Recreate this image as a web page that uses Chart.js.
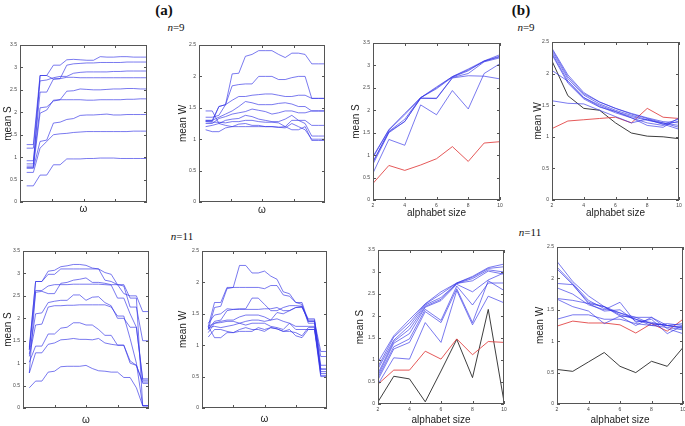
<!DOCTYPE html>
<html>
<head>
<meta charset="utf-8">
<script src="https://cdn.jsdelivr.net/npm/chart.js@4.4.0/dist/chart.umd.min.js"></script>
<style>
  body { margin: 0; background: #fff; }
  #page { position: relative; width: 685px; height: 426px; overflow: hidden; background: #fff; }
  .lbl { position: absolute; transform: translate(-50%, -50%); font-family: "Liberation Serif", serif; color: #111; white-space: nowrap; }
  .head { font-size: 15px; font-weight: bold; }
  .n { font-size: 11px; }
  .panel { position: absolute; }
</style>
</head>
<body>
<div id="page">
  <div class="lbl head" style="left:164px;top:10px">(a)</div>
  <div class="lbl head" style="left:521px;top:10px">(b)</div>
  <div class="lbl n" style="left:176px;top:27px"><i>n</i>=9</div>
  <div class="lbl n" style="left:526px;top:27px"><i>n</i>=9</div>
  <div class="lbl n" style="left:182px;top:236px"><i>n</i>=11</div>
  <div class="lbl n" style="left:530px;top:232px"><i>n</i>=11</div>
</div>
<script>
// x values
const omega9 = [1, 2, 3, 4, 5, 6, 7, 8, 9, 10, 11, 12, 13, 14, 15, 16, 17, 18, 19];
const omega11 = [1, 2, 3, 4, 5, 6, 7, 8, 9, 10, 11, 12, 13, 14, 15, 16, 17, 18, 19, 20];
const alphabet = [2, 3, 4, 5, 6, 7, 8, 9, 10];

// (a) n=9, mean S over omega
const s9Omega = [
  [0.36, 0.36, 0.60, 0.60, 0.83, 0.83, 0.96, 0.96, 0.96, 0.97, 0.97, 0.98, 0.98, 0.98, 0.97, 0.97, 0.97, 0.97, 0.97],
  [0.66, 0.66, 1.20, 1.35, 1.50, 1.52, 1.53, 1.55, 1.56, 1.57, 1.57, 1.57, 1.57, 1.57, 1.57, 1.57, 1.58, 1.58, 1.58],
  [0.75, 0.75, 1.35, 1.38, 1.76, 1.78, 1.84, 1.86, 1.93, 1.94, 1.94, 1.95, 1.96, 1.94, 1.94, 1.95, 1.95, 1.95, 1.95],
  [0.77, 0.77, 1.98, 2.05, 2.27, 2.28, 2.28, 2.28, 2.28, 2.27, 2.27, 2.28, 2.28, 2.28, 2.28, 2.29, 2.29, 2.30, 2.30],
  [0.85, 0.85, 2.10, 2.12, 2.25, 2.28, 2.47, 2.48, 2.52, 2.51, 2.50, 2.50, 2.51, 2.52, 2.52, 2.53, 2.53, 2.52, 2.52],
  [0.92, 0.92, 2.45, 2.45, 2.74, 2.75, 2.78, 2.78, 2.77, 2.77, 2.77, 2.77, 2.77, 2.77, 2.77, 2.77, 2.77, 2.77, 2.77],
  [1.20, 1.20, 2.70, 2.72, 2.77, 2.80, 2.80, 2.87, 2.89, 2.90, 2.90, 2.90, 2.90, 2.91, 2.91, 2.92, 2.92, 2.92, 2.92],
  [1.28, 1.28, 2.82, 2.82, 2.74, 2.75, 3.05, 3.08, 3.09, 3.10, 3.10, 3.11, 3.11, 3.11, 3.11, 3.12, 3.12, 3.12, 3.12],
  [0.80, 0.80, 2.82, 2.82, 3.05, 3.05, 3.17, 3.18, 3.17, 3.16, 3.16, 3.24, 3.23, 3.23, 3.24, 3.24, 3.23, 3.23, 3.23]
];

// (a) n=9, mean W over omega
const w9Omega = [
  [1.30, 1.30, 1.52, 1.55, 2.04, 2.05, 2.32, 2.35, 2.41, 2.41, 2.41, 2.35, 2.30, 2.37, 2.37, 2.35, 2.20, 2.20, 2.20],
  [1.28, 1.28, 1.52, 1.55, 1.85, 1.87, 1.88, 1.88, 2.00, 2.00, 2.00, 1.95, 1.95, 1.98, 2.00, 2.00, 1.65, 1.65, 1.65],
  [1.35, 1.35, 1.38, 1.55, 1.62, 1.68, 1.68, 1.70, 1.71, 1.72, 1.72, 1.70, 1.68, 1.68, 1.70, 1.70, 1.65, 1.65, 1.65],
  [1.30, 1.30, 1.35, 1.40, 1.45, 1.52, 1.60, 1.58, 1.55, 1.55, 1.55, 1.57, 1.58, 1.56, 1.52, 1.52, 1.45, 1.45, 1.45],
  [1.25, 1.25, 1.33, 1.36, 1.40, 1.42, 1.44, 1.48, 1.46, 1.44, 1.40, 1.42, 1.45, 1.45, 1.42, 1.42, 1.45, 1.45, 1.45],
  [1.20, 1.22, 1.25, 1.30, 1.32, 1.33, 1.38, 1.36, 1.32, 1.30, 1.28, 1.28, 1.32, 1.38, 1.30, 1.30, 1.22, 1.22, 1.22],
  [1.28, 1.27, 1.27, 1.26, 1.28, 1.28, 1.30, 1.30, 1.28, 1.27, 1.27, 1.26, 1.20, 1.30, 1.30, 1.25, 1.05, 1.05, 1.05],
  [1.15, 1.12, 1.12, 1.18, 1.20, 1.24, 1.25, 1.22, 1.22, 1.20, 1.20, 1.19, 1.18, 1.25, 1.20, 1.15, 1.00, 1.00, 1.00],
  [1.45, 1.45, 1.25, 1.22, 1.20, 1.20, 1.20, 1.20, 1.20, 1.20, 1.20, 1.19, 1.20, 1.15, 1.15, 1.20, 0.98, 0.98, 0.98]
];

// (b) n=9, mean S over alphabet size
const s9AlphaBlue = [
  [0.97, 1.57, 1.93, 2.28, 2.52, 2.75, 2.92, 3.10, 3.24],
  [0.95, 1.56, 1.90, 2.28, 2.50, 2.75, 2.90, 3.09, 3.21],
  [0.85, 1.53, 1.80, 2.28, 2.48, 2.74, 2.88, 3.10, 3.19],
  [0.85, 1.52, 1.75, 2.27, 2.27, 2.73, 2.82, 3.08, 3.17],
  [0.80, 1.50, 1.75, 2.27, 2.26, 2.72, 2.77, 2.76, 2.70],
  [0.60, 1.35, 1.22, 2.12, 1.90, 2.44, 2.03, 2.82, 3.04]
];
const s9AlphaRed = [0.37, 0.77, 0.66, 0.78, 0.92, 1.19, 0.86, 1.27, 1.30];

// (b) n=9, mean W over alphabet size
const w9AlphaBlue = [
  [1.57, 1.53, 1.52, 1.42, 1.32, 1.22, 1.28, 1.20, 1.28],
  [2.05, 1.88, 1.62, 1.48, 1.38, 1.30, 1.18, 1.15, 1.30],
  [2.40, 1.98, 1.70, 1.55, 1.45, 1.37, 1.30, 1.24, 1.22],
  [2.38, 1.95, 1.68, 1.55, 1.45, 1.36, 1.29, 1.22, 1.15],
  [2.35, 1.92, 1.66, 1.52, 1.42, 1.34, 1.27, 1.20, 1.12],
  [2.32, 1.88, 1.62, 1.50, 1.40, 1.32, 1.26, 1.22, 1.18],
  [2.30, 1.85, 1.60, 1.47, 1.40, 1.30, 1.22, 1.18, 1.25]
];
const w9AlphaRed = [1.13, 1.25, 1.27, 1.29, 1.31, 1.22, 1.45, 1.31, 1.29];
const w9AlphaBlack = [2.20, 1.65, 1.45, 1.42, 1.22, 1.06, 1.01, 1.00, 0.97];

// (a) n=11, mean S over omega
const s11Omega = [
  [1.30, 2.82, 2.82, 3.05, 3.07, 3.15, 3.17, 3.20, 3.20, 3.18, 3.12, 3.10, 3.02, 2.98, 2.75, 2.55, 2.50, 2.50, 2.15, 2.15],
  [1.35, 2.82, 2.82, 2.98, 2.98, 3.10, 3.10, 3.10, 3.10, 3.10, 3.10, 3.10, 2.85, 2.82, 2.75, 2.75, 2.45, 2.45, 0.05, 0.05],
  [1.30, 2.58, 2.60, 2.55, 2.55, 2.78, 2.80, 2.85, 2.87, 2.90, 2.80, 2.80, 2.78, 2.75, 2.75, 2.72, 2.25, 2.25, 1.50, 1.50],
  [0.78, 2.62, 2.62, 2.72, 2.75, 2.75, 2.75, 2.76, 2.76, 2.76, 2.76, 2.76, 2.75, 2.74, 2.45, 2.45, 2.10, 1.80, 0.65, 0.65],
  [1.20, 2.10, 2.12, 2.35, 2.38, 2.40, 2.40, 2.52, 2.52, 2.40, 2.47, 2.48, 2.35, 2.28, 2.00, 2.00, 1.80, 1.80, 0.62, 0.62],
  [1.15, 1.85, 1.87, 2.25, 2.28, 2.28, 2.29, 2.29, 2.30, 2.30, 2.30, 2.30, 2.30, 2.25, 2.05, 2.05, 1.55, 1.00, 0.05, 0.05],
  [1.02, 1.38, 1.38, 1.65, 1.65, 1.78, 1.80, 1.90, 1.90, 1.85, 1.85, 1.75, 1.62, 1.62, 1.40, 1.40, 1.00, 0.95, 0.58, 0.58],
  [0.78, 1.23, 1.23, 1.42, 1.45, 1.52, 1.53, 1.55, 1.53, 1.53, 1.52, 1.55, 1.45, 1.42, 1.40, 1.40, 1.05, 0.95, 0.55, 0.55],
  [0.45, 0.60, 0.60, 0.80, 0.82, 0.92, 0.93, 0.93, 0.93, 0.95, 0.88, 0.83, 0.82, 0.80, 0.80, 0.68, 0.68, 0.45, 0.05, 0.05]
];

// (a) n=11, mean W over omega
const w11Omega = [
  [1.25, 1.60, 1.62, 1.90, 1.92, 2.27, 2.27, 2.15, 2.15, 2.18, 2.10, 2.05, 1.85, 1.82, 1.68, 1.68, 1.38, 1.38, 0.90, 0.90],
  [1.30, 1.68, 1.68, 1.92, 1.92, 1.92, 1.92, 1.92, 1.92, 1.90, 1.95, 1.95, 1.80, 1.78, 1.68, 1.65, 1.35, 1.35, 0.82, 0.82],
  [1.35, 1.48, 1.50, 1.58, 1.57, 1.58, 1.58, 1.75, 1.75, 1.65, 1.55, 1.55, 1.60, 1.63, 1.63, 1.62, 1.42, 1.42, 0.68, 0.68],
  [1.25, 1.38, 1.40, 1.55, 1.57, 1.57, 1.57, 1.57, 1.57, 1.58, 1.58, 1.60, 1.55, 1.55, 1.60, 1.62, 1.38, 1.38, 0.62, 0.62],
  [1.30, 1.35, 1.38, 1.40, 1.40, 1.45, 1.48, 1.48, 1.48, 1.45, 1.40, 1.52, 1.50, 1.55, 1.60, 1.60, 1.40, 1.40, 0.55, 0.55],
  [1.20, 1.35, 1.36, 1.38, 1.38, 1.35, 1.38, 1.40, 1.40, 1.38, 1.40, 1.42, 1.38, 1.35, 1.30, 1.30, 1.30, 1.30, 0.52, 0.52],
  [1.28, 1.30, 1.28, 1.30, 1.32, 1.35, 1.32, 1.35, 1.35, 1.35, 1.30, 1.28, 1.25, 1.35, 1.25, 1.25, 1.25, 1.25, 0.50, 0.50],
  [1.13, 1.25, 1.25, 1.22, 1.20, 1.25, 1.28, 1.25, 1.25, 1.22, 1.28, 1.26, 1.22, 1.22, 1.20, 1.15, 1.28, 1.28, 0.58, 0.58],
  [1.30, 1.12, 1.12, 1.20, 1.20, 1.22, 1.22, 1.22, 1.28, 1.25, 1.28, 1.26, 1.22, 1.25, 1.15, 1.12, 1.25, 1.25, 0.62, 0.62]
];

// (b) n=11, mean S over alphabet size
const s11AlphaBlue = [
  [0.95, 1.55, 1.92, 2.28, 2.55, 2.75, 2.90, 3.10, 3.18],
  [0.85, 1.52, 1.85, 2.27, 2.50, 2.75, 2.88, 3.08, 3.12],
  [0.80, 1.45, 1.78, 2.25, 2.42, 2.74, 2.85, 3.05, 3.00],
  [0.70, 1.42, 1.70, 2.22, 2.38, 2.74, 2.80, 3.02, 2.95],
  [0.65, 1.38, 1.60, 2.20, 2.35, 2.72, 2.55, 2.82, 2.98],
  [0.60, 1.30, 1.48, 2.15, 1.90, 2.68, 2.25, 2.75, 2.75],
  [0.55, 1.25, 1.40, 2.10, 1.85, 2.62, 1.85, 2.80, 2.58],
  [0.45, 1.05, 1.02, 1.85, 1.40, 2.58, 1.80, 2.45, 2.30]
];
const s11AlphaRed = [0.45, 0.77, 0.77, 1.20, 1.02, 1.48, 1.12, 1.42, 1.40];
const s11AlphaBlack = [0.05, 0.63, 0.57, 0.05, 0.75, 1.47, 0.60, 2.15, 0.05];

// (b) n=11, mean W over alphabet size
const w11AlphaBlue = [
  [2.27, 1.95, 1.72, 1.55, 1.45, 1.35, 1.28, 1.25, 1.20],
  [2.18, 1.92, 1.65, 1.52, 1.45, 1.38, 1.28, 1.25, 1.22],
  [2.15, 1.90, 1.62, 1.55, 1.42, 1.35, 1.25, 1.22, 1.18],
  [1.92, 1.90, 1.60, 1.48, 1.50, 1.32, 1.30, 1.25, 1.22],
  [1.85, 1.75, 1.58, 1.50, 1.62, 1.30, 1.35, 1.12, 1.25],
  [1.68, 1.65, 1.60, 1.55, 1.40, 1.38, 1.38, 1.20, 1.12],
  [1.67, 1.55, 1.48, 1.28, 1.40, 1.25, 1.38, 1.25, 1.28],
  [1.35, 1.42, 1.42, 1.35, 1.35, 1.28, 1.25, 1.28, 1.25]
];
const w11AlphaRed = [1.24, 1.32, 1.29, 1.29, 1.26, 1.13, 1.28, 1.16, 1.35];
const w11AlphaBlack = [0.55, 0.52, 0.67, 0.82, 0.60, 0.50, 0.68, 0.60, 0.90];

const BLUE = 'rgba(50, 50, 230, 0.65)';
const RED = 'rgba(225, 60, 60, 0.85)';
const BLACK = 'rgba(40, 40, 40, 0.9)';

const page = document.getElementById('page');

// box around the plot with small inward ticks on all four sides
const boxFrame = {
  id: 'boxFrame',
  afterDatasetsDraw(chart) {
    const { ctx, chartArea: a, scales: { x, y } } = chart;
    const t = 3;
    ctx.save();
    ctx.strokeStyle = '#555';
    ctx.lineWidth = 1;
    ctx.strokeRect(a.left + 0.5, a.top + 0.5, a.right - a.left - 1, a.bottom - a.top - 1);
    ctx.beginPath();
    x.ticks.forEach(tk => {
      const px = Math.round(x.getPixelForValue(tk.value)) + 0.5;
      ctx.moveTo(px, a.bottom); ctx.lineTo(px, a.bottom - t);
      ctx.moveTo(px, a.top); ctx.lineTo(px, a.top + t);
    });
    y.ticks.forEach(tk => {
      const py = Math.round(y.getPixelForValue(tk.value)) + 0.5;
      ctx.moveTo(a.left, py); ctx.lineTo(a.left + t, py);
      ctx.moveTo(a.right, py); ctx.lineTo(a.right - t, py);
    });
    ctx.stroke();
    ctx.restore();
  }
};

function addPanel(p) {
  const left = p.yTitleX - 6;
  const top = p.plot.top - 6;
  const right = p.plot.right + 6;
  const bottom = p.xTitleY + 6;

  const canvas = document.createElement('canvas');
  canvas.className = 'panel';
  canvas.width = right - left;
  canvas.height = bottom - top;
  canvas.style.left = left + 'px';
  canvas.style.top = top + 'px';
  page.appendChild(canvas);

  const tickFont = { family: 'Liberation Sans', size: 5 };
  const titleFont = { family: 'Liberation Sans', size: 10 };

  const xScale = {
    type: 'linear',
    min: p.xMin,
    max: p.xMax,
    grid: { display: false, drawTicks: false },
    border: { display: false },
    title: { display: true, text: p.xTitle, font: titleFont, color: '#222', padding: 0 },
    afterFit(s) {
      s.height = bottom - p.plot.bottom;
      s.paddingLeft = 0;
      s.paddingRight = 0;
    }
  };
  if (p.omega) {
    xScale.ticks = { callback: () => '', font: tickFont };
    xScale.afterBuildTicks = s => {
      s.ticks = [1, 2, 3].map(k => ({ value: s.min + (s.max - s.min) * k / 4 }));
    };
  } else {
    xScale.ticks = { stepSize: 2, font: tickFont, color: '#444', padding: 3, maxRotation: 0 };
  }

  new Chart(canvas, {
    type: 'line',
    data: {
      datasets: p.series.map(s => ({
        data: p.xs.map((x, i) => ({ x, y: s.values[i] })),
        borderColor: s.color,
        borderWidth: 1,
        pointRadius: 0,
        tension: 0,
        fill: false
      }))
    },
    options: {
      responsive: false,
      animation: false,
      devicePixelRatio: 1,
      layout: { padding: { left: 0, top: p.plot.top - top, right: right - p.plot.right, bottom: 0 } },
      plugins: { legend: { display: false }, tooltip: { enabled: false } },
      scales: {
        x: xScale,
        y: {
          min: 0,
          max: p.yMax,
          grid: { display: false, drawTicks: false },
          border: { display: false },
          ticks: { stepSize: 0.5, font: tickFont, color: '#444', padding: 3, callback: v => String(+v.toFixed(1)) },
          title: { display: true, text: p.yTitle, font: titleFont, color: '#222', padding: 0 },
          afterFit(s) {
            s.width = p.plot.left - left;
            s.paddingTop = 0;
            s.paddingBottom = 0;
          }
        }
      }
    },
    plugins: [boxFrame]
  });
}

const blues = arr => arr.map(values => ({ values, color: BLUE }));

addPanel({
  plot: { left: 20, top: 45, right: 147, bottom: 202 }, yTitleX: 8, xTitleY: 209,
  omega: true, xs: omega9, xMin: 0, xMax: 19, yMax: 3.5, yTitle: 'mean S', xTitle: 'ω',
  series: blues(s9Omega)
});
addPanel({
  plot: { left: 199, top: 45, right: 325, bottom: 202 }, yTitleX: 183, xTitleY: 210,
  omega: true, xs: omega9, xMin: 0, xMax: 19, yMax: 2.5, yTitle: 'mean W', xTitle: 'ω',
  series: blues(w9Omega)
});
addPanel({
  plot: { left: 373, top: 43, right: 500, bottom: 200 }, yTitleX: 356, xTitleY: 213,
  omega: false, xs: alphabet, xMin: 2, xMax: 10, yMax: 3.5, yTitle: 'mean S', xTitle: 'alphabet size',
  series: blues(s9AlphaBlue).concat([{ values: s9AlphaRed, color: RED }])
});
addPanel({
  plot: { left: 552, top: 42, right: 679, bottom: 200 }, yTitleX: 538, xTitleY: 213,
  omega: false, xs: alphabet, xMin: 2, xMax: 10, yMax: 2.5, yTitle: 'mean W', xTitle: 'alphabet size',
  series: blues(w9AlphaBlue).concat([{ values: w9AlphaRed, color: RED }, { values: w9AlphaBlack, color: BLACK }])
});
addPanel({
  plot: { left: 23, top: 251, right: 149, bottom: 408 }, yTitleX: 8, xTitleY: 420,
  omega: true, xs: omega11, xMin: 0, xMax: 20, yMax: 3.5, yTitle: 'mean S', xTitle: 'ω',
  series: blues(s11Omega)
});
addPanel({
  plot: { left: 202, top: 251, right: 327, bottom: 408 }, yTitleX: 183, xTitleY: 419,
  omega: true, xs: omega11, xMin: 0, xMax: 20, yMax: 2.5, yTitle: 'mean W', xTitle: 'ω',
  series: blues(w11Omega)
});
addPanel({
  plot: { left: 378, top: 250, right: 504, bottom: 404 }, yTitleX: 360, xTitleY: 420,
  omega: false, xs: alphabet, xMin: 2, xMax: 10, yMax: 3.5, yTitle: 'mean S', xTitle: 'alphabet size',
  series: blues(s11AlphaBlue).concat([{ values: s11AlphaRed, color: RED }, { values: s11AlphaBlack, color: BLACK }])
});
addPanel({
  plot: { left: 557, top: 247, right: 683, bottom: 404 }, yTitleX: 540, xTitleY: 420,
  omega: false, xs: alphabet, xMin: 2, xMax: 10, yMax: 2.5, yTitle: 'mean W', xTitle: 'alphabet size',
  series: blues(w11AlphaBlue).concat([{ values: w11AlphaRed, color: RED }, { values: w11AlphaBlack, color: BLACK }])
});
</script>
</body>
</html>
